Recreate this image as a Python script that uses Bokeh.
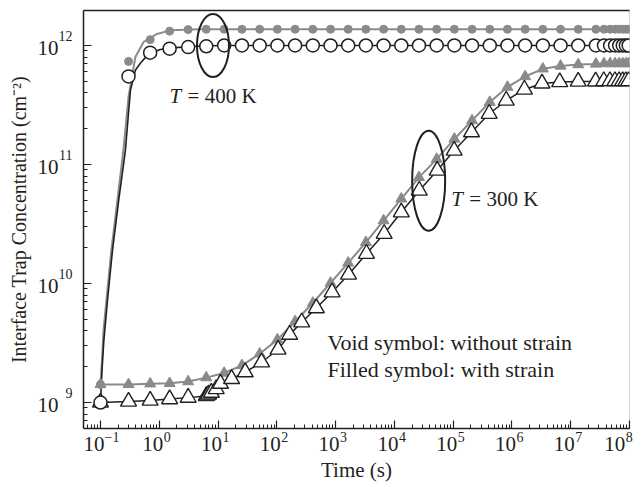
from bokeh.plotting import figure
from bokeh.models import Range1d, LogAxis, LogTicker, FixedTicker, CustomJSTickFormatter
from bokeh.embed import file_html
from bokeh.resources import INLINE
from bokeh.core.properties import value

FONT = "Liberation Serif"
INK = "#231f20"
GRAY = "#8a8a8a"

# ---------------- data ----------------
# simulation time grid (s) shared by the 400 K series and the strained 300 K series
t_grid = [0.1, 0.3, 0.7, 1.5, 3.1, 6.3, 12.7, 25.5, 51.1, 102.3, 204.7, 409.5,
          819.1, 1638.3, 3276.7, 6553.5, 13107, 26214, 52429, 104858, 209715,
          419430, 838861, 1677722, 3355443, 6710886, 13421773, 26843546,
          36843546, 46843546, 56843546, 66843546, 76843546, 86843546, 96843546]

# T = 400 K, with strain (filled circles)
n400_strain = [1.42e9, 7.35e11, 1.12e12, 1.32e12, 1.36e12, 1.37e12, 1.37e12,
               1.37e12, 1.37e12, 1.37e12, 1.37e12, 1.37e12, 1.37e12, 1.37e12,
               1.37e12, 1.37e12, 1.37e12, 1.37e12, 1.37e12, 1.37e12, 1.37e12,
               1.37e12, 1.37e12, 1.37e12, 1.37e12, 1.37e12, 1.37e12, 1.37e12,
               1.37e12, 1.37e12, 1.37e12, 1.37e12, 1.37e12, 1.37e12, 1.37e12]
# T = 400 K, without strain (void circles)
n400_void = [1.0e9, 5.5e11, 8.7e11, 9.4e11, 9.7e11, 9.85e11, 1.0e12, 1.0e12,
             1.0e12, 1.0e12, 1.0e12, 1.0e12, 1.0e12, 1.0e12, 1.0e12, 1.0e12,
             1.0e12, 1.0e12, 1.0e12, 1.0e12, 1.0e12, 1.0e12, 1.0e12, 1.0e12,
             1.0e12, 1.0e12, 1.0e12, 1.0e12, 1.0e12, 1.0e12, 1.0e12, 1.0e12,
             1.0e12, 1.0e12, 1.0e12]
# T = 300 K, with strain (filled triangles)
n300_strain = [1.42e9, 1.42e9, 1.44e9, 1.45e9, 1.50e9, 1.62e9, 1.77e9, 2.05e9,
               2.57e9, 3.38e9, 4.8e9, 6.86e9, 1.01e10, 1.49e10, 2.22e10, 3.38e10,
               5.15e10, 7.8e10, 1.11e11, 1.64e11, 2.34e11, 3.34e11, 4.47e11,
               5.49e11, 6.37e11, 6.73e11, 6.92e11, 7.0e11, 7.06e11, 7.06e11,
               7.06e11, 7.06e11, 7.06e11, 7.06e11, 7.06e11]

# T = 300 K, without strain (void triangles) - own time grid
t300_void = [0.1, 0.3, 0.7, 1.5, 3.1, 6.3, 6.5, 6.9, 7.7, 9.3, 11, 17, 29, 55,
             105, 165, 265, 470, 870, 1660, 3350, 6700, 13100, 26500, 53500,
             104000, 205000, 410000, 800000, 1630000, 3250000, 6500000,
             13400000, 26500000, 36500000, 46500000, 56500000, 66500000,
             76500000, 86500000, 96500000]
n300_void = [1.0e9, 1.02e9, 1.04e9, 1.07e9, 1.10e9, 1.135e9, 1.146e9, 1.17e9,
             1.21e9, 1.30e9, 1.44e9, 1.58e9, 1.80e9, 2.18e9, 2.79e9, 3.72e9,
             4.73e9, 6.22e9, 8.45e9, 1.19e10, 1.78e10, 2.62e10, 3.97e10,
             6.05e10, 8.9e10, 1.31e11, 1.87e11, 2.67e11, 3.45e11, 4.27e11,
             4.8e11, 4.93e11, 4.98e11, 5.0e11, 5.03e11, 5.03e11, 5.03e11,
             5.03e11, 5.03e11, 5.03e11, 5.03e11]

# 400 K model curves
c400_void_t = [0.1, 0.106, 0.114, 0.1315, 0.16, 0.204, 0.265, 0.323, 0.392,
               0.476, 0.66, 1.04, 1.53, 3.35, 10.7, 1e8]
c400_void_n = [1.0e9, 1.86e9, 3.3e9, 7.2e9, 1.9e10, 5.0e10, 1.31e11, 4.2e11,
               6.2e11, 7.1e11, 8.5e11, 9.25e11, 9.5e11, 9.8e11, 1.0e12, 1.0e12]
c400_strain_t = [0.1, 0.106, 0.1125, 0.126, 0.153, 0.194, 0.245, 0.30, 0.392,
                 0.542, 0.914, 1.53, 4.96, 1e8]
c400_strain_n = [1.42e9, 2.25e9, 4.0e9, 7.2e9, 1.9e10, 5.0e10, 1.31e11, 3.7e11,
                 8.0e11, 1.07e12, 1.25e12, 1.34e12, 1.37e12, 1.37e12]

x_ticks = [1e-1, 1e0, 1e1, 1e2, 1e3, 1e4, 1e5, 1e6, 1e7, 1e8]
x_tick_exps = ["−1", "0", "1", "2", "3", "4", "5", "6", "7", "8"]
y_ticks = [1e9, 1e10, 1e11, 1e12]
y_tick_exps = ["9", "10", "11", "12"]

X0, X1 = 10 ** -1.289, 1e8
Y0, Y1 = 10 ** 8.782, 10 ** 12.294
XPX = 58.8    # screen px per decade, x
YPX = 119.0   # screen px per decade, y

# ---------------- figure ----------------
p = figure(frame_width=546, frame_height=418, x_axis_type="log", y_axis_type="log",
           x_range=Range1d(X0, X1), y_range=Range1d(Y0, Y1),
           output_backend="svg", toolbar_location=None,
           min_border_left=83, min_border_right=12, min_border_top=10, min_border_bottom=55)
p.grid.visible = False
p.outline_line_color = "#d8d8d8"
p.background_fill_color = "white"
p.border_fill_color = "white"

p.xaxis.ticker = LogTicker(desired_num_ticks=12, num_minor_ticks=10)
p.yaxis.ticker = LogTicker(desired_num_ticks=5, num_minor_ticks=10)
p.xaxis.formatter = CustomJSTickFormatter(code='return "";')
p.yaxis.formatter = CustomJSTickFormatter(code='return "";')

for ax in (p.xaxis[0], p.yaxis[0]):
    ax.major_tick_in = 8
    ax.major_tick_out = 0
    ax.minor_tick_in = 4
    ax.minor_tick_out = 0
    ax.axis_line_width = 1.5
    ax.axis_line_color = INK
    ax.major_tick_line_color = INK
    ax.minor_tick_line_color = INK
    ax.major_tick_line_width = 1.2
    ax.minor_tick_line_width = 1
    ax.major_label_text_font_size = "1px"
    ax.major_label_standoff = 0

top = LogAxis(major_tick_in=0, major_tick_out=0, minor_tick_in=0, minor_tick_out=0,
              major_label_text_font_size="1px", major_label_text_alpha=0,
              major_label_standoff=0, axis_line_width=1.5, axis_line_color=INK)
p.add_layout(top, "above")

fmt_code = """
let best = 0; let bd = Infinity;
for (let i = 0; i < tv.length; i++) {
  const d = Math.abs(Math.log10(tick) - Math.log10(tv[i]));
  if (d < bd) { bd = d; best = i; }
}
return bd < 0.005 ? lb[best] : "";
"""


def label_axis(ticks, labels, size, standoff, **kw):
    ax = LogAxis(ticker=FixedTicker(ticks=ticks, minor_ticks=[]),
                 formatter=CustomJSTickFormatter(args=dict(tv=ticks, lb=labels), code=fmt_code),
                 major_tick_in=0, major_tick_out=0, minor_tick_in=0, minor_tick_out=0,
                 axis_line_color=None, major_label_standoff=standoff,
                 major_label_text_font=FONT, major_label_text_font_size=size,
                 major_label_text_color=INK, **kw)
    return ax


# x tick labels: exponent row (inner) and "10" row (outer, with the axis title);
# the exponent anchor is kept inside the x range so the last label still shows
x_exp_pos = [min(t * 10 ** ((4.5 + 3.5 * len(e)) / XPX), X1 * 10 ** (-0.3 / XPX))
             for t, e in zip(x_ticks, x_tick_exps)]
x_base_pos = [pe * 10 ** (-(3.5 * len(e) + 11) / XPX) for pe, e in zip(x_exp_pos, x_tick_exps)]
p.add_layout(label_axis(x_exp_pos, x_tick_exps, "14px", 3), "below")
p.add_layout(label_axis(x_base_pos, ["10"] * len(x_ticks), "21px", -8,
                        axis_label="Time (s)", axis_label_standoff=4,
                        axis_label_text_font=FONT, axis_label_text_font_size="21px",
                        axis_label_text_font_style="normal", axis_label_text_color=INK), "below")

# y tick labels
y_exp_pos = [t * 10 ** (9.5 / YPX) for t in y_ticks]
y_base_pos = [t * 10 ** (-2.5 / YPX) for t in y_ticks]
p.add_layout(label_axis(y_exp_pos, y_tick_exps, "14px", 11), "left")
p.add_layout(label_axis(y_base_pos, ["10"] * len(y_ticks), "21px", -3,
                        axis_label="Interface Trap Concentration (cm⁻²)", axis_label_standoff=5,
                        axis_label_text_font=FONT, axis_label_text_font_size="20px",
                        axis_label_text_font_style="normal", axis_label_text_color=INK), "left")

# ---------------- curves ----------------
p.line(c400_strain_t, c400_strain_n, line_color=GRAY, line_width=2)
p.line(c400_void_t, c400_void_n, line_color=INK, line_width=1.6)
p.line(t_grid, n300_strain, line_color=GRAY, line_width=2)
p.line(t300_void, n300_void, line_color=INK, line_width=1.5)

p.scatter(t_grid, n400_strain, marker="circle", size=8, fill_color=GRAY, line_color=GRAY)
p.scatter(t_grid, n300_strain, marker="triangle", size=11, fill_color=GRAY, line_color=GRAY)
p.scatter(t300_void, n300_void, marker="triangle", size=16, fill_color="white", line_color=INK, line_width=1.4)
p.scatter(t_grid, n400_void, marker="circle", size=13, fill_color="white", line_color=INK, line_width=1.5)

# ---------------- annotations ----------------
p.ellipse(x=[8.2], y=[1.0e12], width=32, height=63, width_units="screen", height_units="screen",
          fill_color=None, line_color=INK, line_width=2)
p.ellipse(x=[38300], y=[7.3e10], width=33, height=100, width_units="screen", height_units="screen",
          fill_color=None, line_color=INK, line_width=2)

txt = dict(text_font=value(FONT), text_color=INK, text_baseline="alphabetic")
p.text(x=[1.5], y=[3.8e11], text=["T"], text_font_style="italic", text_font_size="21px", **txt)
p.text(x=[1.5], y=[3.8e11], text=["= 400 K"], x_offset=18, text_font_size="21px", **txt)
p.text(x=[93100], y=[5.1e10], text=["T"], text_font_style="italic", text_font_size="21px", **txt)
p.text(x=[93100], y=[5.1e10], text=["= 300 K"], x_offset=18, text_font_size="21px", **txt)
p.text(x=[726], y=[3.2e9], text=["Void symbol: without strain"], text_font_size="22px", **txt)
p.text(x=[726], y=[1.9e9], text=["Filled symbol: with strain"], text_font_size="22px", **txt)

open("out.html", "w").write(file_html(p, INLINE))
